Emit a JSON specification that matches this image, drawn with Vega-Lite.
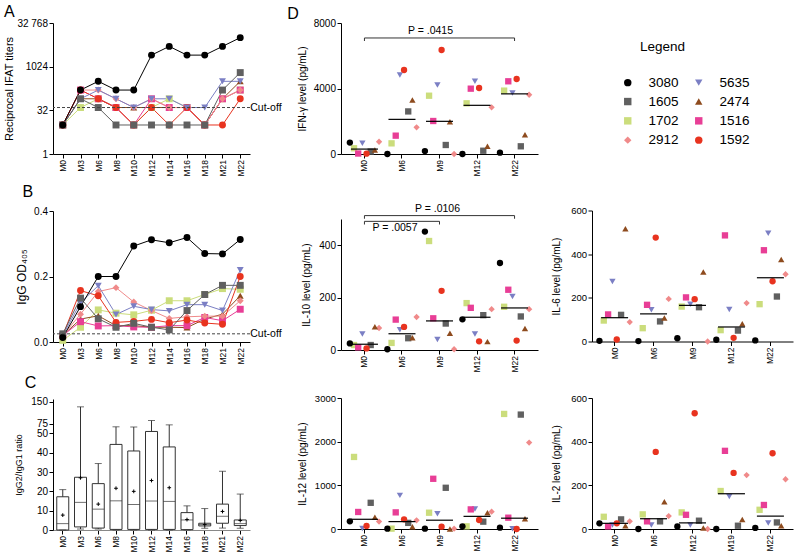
{
"$schema": "https://vega.github.io/schema/vega-lite/v6.json",
"padding": {"left": 3, "top": 3, "right": 1, "bottom": 1},
"background": "white",
"bounds": "flush",
"spacing": 288,
"resolve": {"scale": {"xOffset": "independent"}},
"datasets": {
"serol": [
{"animal":"1702","month":"M0","t":0,"ti":10,"od":0.005},{"animal":"1702","month":"M3","t":3,"ti":40,"od":0.045},{"animal":"1702","month":"M6","t":6,"ti":80,"od":0.098},{"animal":"1702","month":"M8","t":8,"ti":40,"od":0.088},{"animal":"1702","month":"M10","t":10,"ti":10,"od":0.083},{"animal":"1702","month":"M12","t":12,"ti":40,"od":0.097},{"animal":"1702","month":"M14","t":14,"ti":80,"od":0.126},{"animal":"1702","month":"M16","t":16,"ti":40,"od":0.126},{"animal":"1702","month":"M18","t":18,"ti":10,"od":0.145},{"animal":"1702","month":"M21","t":21,"ti":80,"od":0.163},{"animal":"1702","month":"M22","t":22,"ti":160,"od":0.161},
{"animal":"2474","month":"M0","t":0,"ti":10,"od":0.02},{"animal":"2474","month":"M3","t":3,"ti":80,"od":0.07},{"animal":"2474","month":"M6","t":6,"ti":80,"od":0.08},{"animal":"2474","month":"M8","t":8,"ti":40,"od":0.05},{"animal":"2474","month":"M10","t":10,"ti":40,"od":0.05},{"animal":"2474","month":"M12","t":12,"ti":40,"od":0.045},{"animal":"2474","month":"M14","t":14,"ti":40,"od":0.045},{"animal":"2474","month":"M16","t":16,"ti":40,"od":0.044},{"animal":"2474","month":"M18","t":18,"ti":10,"od":0.07},{"animal":"2474","month":"M21","t":21,"ti":80,"od":0.085},{"animal":"2474","month":"M22","t":22,"ti":320,"od":0.141},
{"animal":"1516","month":"M0","t":0,"ti":10,"od":0.02},{"animal":"1516","month":"M3","t":3,"ti":160,"od":0.062},{"animal":"1516","month":"M6","t":6,"ti":80,"od":0.049},{"animal":"1516","month":"M8","t":8,"ti":40,"od":0.05},{"animal":"1516","month":"M10","t":10,"ti":10,"od":0.046},{"animal":"1516","month":"M12","t":12,"ti":80,"od":0.045},{"animal":"1516","month":"M14","t":14,"ti":40,"od":0.05},{"animal":"1516","month":"M16","t":16,"ti":40,"od":0.05},{"animal":"1516","month":"M18","t":18,"ti":10,"od":0.075},{"animal":"1516","month":"M21","t":21,"ti":80,"od":0.065},{"animal":"1516","month":"M22","t":22,"ti":160,"od":0.1},
{"animal":"2912","month":"M0","t":0,"ti":10,"od":0.02},{"animal":"2912","month":"M3","t":3,"ti":160,"od":0.085},{"animal":"2912","month":"M6","t":6,"ti":160,"od":0.154},{"animal":"2912","month":"M8","t":8,"ti":80,"od":0.166},{"animal":"2912","month":"M10","t":10,"ti":40,"od":0.122},{"animal":"2912","month":"M12","t":12,"ti":80,"od":0.096},{"animal":"2912","month":"M14","t":14,"ti":40,"od":0.072},{"animal":"2912","month":"M16","t":16,"ti":40,"od":0.077},{"animal":"2912","month":"M18","t":18,"ti":10,"od":0.079},{"animal":"2912","month":"M21","t":21,"ti":80,"od":0.079},{"animal":"2912","month":"M22","t":22,"ti":160,"od":0.126},
{"animal":"1592","month":"M0","t":0,"ti":10,"od":0.02},{"animal":"1592","month":"M3","t":3,"ti":160,"od":0.157},{"animal":"1592","month":"M6","t":6,"ti":80,"od":0.141},{"animal":"1592","month":"M8","t":8,"ti":40,"od":0.06},{"animal":"1592","month":"M10","t":10,"ti":10,"od":0.063},{"animal":"1592","month":"M12","t":12,"ti":40,"od":0.069},{"animal":"1592","month":"M14","t":14,"ti":10,"od":0.059},{"animal":"1592","month":"M16","t":16,"ti":40,"od":0.067},{"animal":"1592","month":"M18","t":18,"ti":10,"od":0.058},{"animal":"1592","month":"M21","t":21,"ti":10,"od":0.054},{"animal":"1592","month":"M22","t":22,"ti":80,"od":0.2},
{"animal":"5635","month":"M0","t":0,"ti":10,"od":0.02},{"animal":"5635","month":"M3","t":3,"ti":80,"od":0.12},{"animal":"5635","month":"M6","t":6,"ti":160,"od":0.172},{"animal":"5635","month":"M8","t":8,"ti":80,"od":0.084},{"animal":"5635","month":"M10","t":10,"ti":40,"od":0.109},{"animal":"5635","month":"M12","t":12,"ti":80,"od":0.099},{"animal":"5635","month":"M14","t":14,"ti":80,"od":0.095},{"animal":"5635","month":"M16","t":16,"ti":40,"od":0.114},{"animal":"5635","month":"M18","t":18,"ti":40,"od":0.114},{"animal":"5635","month":"M21","t":21,"ti":320,"od":0.096},{"animal":"5635","month":"M22","t":22,"ti":320,"od":0.22},
{"animal":"1605","month":"M0","t":0,"ti":10,"od":0.025},{"animal":"1605","month":"M3","t":3,"ti":80,"od":0.134},{"animal":"1605","month":"M6","t":6,"ti":40,"od":0.071},{"animal":"1605","month":"M8","t":8,"ti":10,"od":0.045},{"animal":"1605","month":"M10","t":10,"ti":10,"od":0.057},{"animal":"1605","month":"M12","t":12,"ti":10,"od":0.045},{"animal":"1605","month":"M14","t":14,"ti":10,"od":0.037},{"animal":"1605","month":"M16","t":16,"ti":10,"od":0.096},{"animal":"1605","month":"M18","t":18,"ti":10,"od":0.145},{"animal":"1605","month":"M21","t":21,"ti":160,"od":0.173},{"animal":"1605","month":"M22","t":22,"ti":640,"od":0.173},
{"animal":"3080","month":"M0","t":0,"ti":10,"od":0.014},{"animal":"3080","month":"M3","t":3,"ti":160,"od":0.108},{"animal":"3080","month":"M6","t":6,"ti":320,"od":0.2},{"animal":"3080","month":"M8","t":8,"ti":160,"od":0.2},{"animal":"3080","month":"M10","t":10,"ti":160,"od":0.293},{"animal":"3080","month":"M12","t":12,"ti":2560,"od":0.312},{"animal":"3080","month":"M14","t":14,"ti":5120,"od":0.303},{"animal":"3080","month":"M16","t":16,"ti":2560,"od":0.319},{"animal":"3080","month":"M18","t":18,"ti":2560,"od":0.27},{"animal":"3080","month":"M21","t":21,"ti":5120,"od":0.269},{"animal":"3080","month":"M22","t":22,"ti":10240,"od":0.313}
],
"ratio": [
{"month":"M0","min":0,"q1":0,"median":3.3,"q3":17.2,"max":20.9,"mean":7.7},
{"month":"M3","min":0.5,"q1":1.6,"median":14.3,"q3":27.3,"max":133,"mean":27},
{"month":"M6","min":0.5,"q1":1,"median":10.8,"q3":24,"max":34.4,"mean":13.4},
{"month":"M8","min":0,"q1":0.3,"median":15.1,"q3":44.3,"max":67,"mean":21.6},
{"month":"M10","min":0,"q1":0.3,"median":13.2,"q3":40.9,"max":66.5,"mean":20},
{"month":"M12","min":0,"q1":0.3,"median":15,"q3":55,"max":86,"mean":25.6},
{"month":"M14","min":0,"q1":0.3,"median":14.8,"q3":43,"max":72,"mean":21.9},
{"month":"M16","min":0,"q1":0.2,"median":5.2,"q3":9,"max":12.5,"mean":5.4},
{"month":"M18","min":0.9,"q1":2.1,"median":2.8,"q3":3.5,"max":11.1,"mean":2.8},
{"month":"M21","min":1,"q1":3.5,"median":7.1,"q3":13.4,"max":30.4,"mean":9.6},
{"month":"M22","min":0.9,"q1":2.3,"median":3.3,"q3":5.2,"max":18.6,"mean":4.9}
],
"cyto": [
{"c":"IFN","m":"M0","3080":700,"1605":150,"1702":350,"2912":750,"5635":650,"2474":250,"1516":30,"1592":20},
{"c":"IFN","m":"M6","3080":0,"1605":2600,"1702":650,"2912":1630,"5635":4825,"2474":3300,"1516":1120,"1592":5130},
{"c":"IFN","m":"M9","3080":180,"1605":550,"1702":3560,"2912":0,"5635":4215,"2474":1975,"1516":2015,"1592":6350},
{"c":"IFN","m":"M12","3080":0,"1605":200,"1702":3095,"2912":2850,"5635":4440,"2474":470,"1516":3990,"1592":4030},
{"c":"IFN","m":"M22","3080":80,"1605":470,"1702":3870,"2912":3620,"5635":3725,"2474":1180,"1516":4440,"1592":4580},
{"c":"IL10","m":"M0","3080":25,"1605":19,"1702":19,"2912":84,"5635":61,"2474":89,"1516":10,"1592":6},
{"c":"IL10","m":"M6","3080":3,"1605":45,"1702":27,"2912":126,"5635":77,"2474":47,"1516":116,"1592":88},
{"c":"IL10","m":"M9","3080":452,"1605":101,"1702":416,"2912":3,"5635":40,"2474":64,"1516":121,"1592":226},
{"c":"IL10","m":"M12","3080":117,"1605":133,"1702":179,"2912":156,"5635":61,"2474":32,"1516":161,"1592":33},
{"c":"IL10","m":"M22","3080":332,"1605":128,"1702":165,"2912":156,"5635":204,"2474":82,"1516":230,"1592":36},
{"c":"IL6","m":"M0","3080":3,"1605":122,"1702":96,"2912":89,"5635":275,"2474":516,"1516":124,"1592":9},
{"c":"IL6","m":"M6","3080":2,"1605":92,"1702":61,"2912":195,"5635":145,"2474":108,"1516":168,"1592":476},
{"c":"IL6","m":"M9","3080":15,"1605":157,"1702":160,"2912":0,"5635":171,"2474":318,"1516":202,"1592":194},
{"c":"IL6","m":"M12","3080":8,"1605":50,"1702":52,"2912":176,"5635":147,"2474":81,"1516":486,"1592":17},
{"c":"IL6","m":"M22","3080":5,"1605":206,"1702":171,"2912":308,"5635":496,"2474":376,"1516":418,"1592":276},
{"c":"IL12","m":"M0","3080":175,"1605":600,"1702":1650,"2912":170,"5635":10,"2474":270,"1516":390,"1592":70},
{"c":"IL12","m":"M6","3080":8,"1605":140,"1702":8,"2912":198,"5635":770,"2474":53,"1516":381,"1592":221},
{"c":"IL12","m":"M9","3080":8,"1605":944,"1702":373,"2912":8,"5635":350,"2474":0,"1516":1150,"1592":53},
{"c":"IL12","m":"M12","3080":61,"1605":168,"1702":61,"2912":396,"5635":457,"2474":373,"1516":449,"1592":206},
{"c":"IL12","m":"M22","3080":30,"1605":2620,"1702":2635,"2912":1980,"5635":8,"2474":236,"1516":259,"1592":0},
{"c":"IL2","m":"M0","3080":26,"1605":44,"1702":56,"2912":35,"5635":18,"2474":15,"1516":12,"1592":26},
{"c":"IL2","m":"M6","3080":0,"1605":35,"1702":67,"2912":59,"5635":18,"2474":125,"1516":35,"1592":353},
{"c":"IL2","m":"M12","3080":12,"1605":38,"1702":76,"2912":0,"5635":18,"2474":5,"1516":65,"1592":530},
{"c":"IL2","m":"M19","3080":0,"1605":15,"1702":174,"2912":247,"5635":149,"2474":43,"1516":358,"1592":257},
{"c":"IL2","m":"M22","3080":5,"1605":30,"1702":88,"2912":228,"5635":27,"2474":15,"1516":110,"1592":347}
],
"br": [
{"c":"IFN","a":"M0","b":"M22","y":7085,"label":"P = .0415","lx":"M9","pos":"above"},
{"c":"IL10","a":"M0","b":"M22","y":513,"label":"P = .0106","lx":"M9","pos":"above"},
{"c":"IL10","a":"M0","b":"M9","y":491,"label":"P = .0057","lx":"M0","pos":"below"}
],
"brEnds": [
{"c":"IFN","m":"M0","y":7085,"y2":6900},{"c":"IFN","m":"M22","y":7085,"y2":6900},
{"c":"IL10","m":"M0","y":513,"y2":501},{"c":"IL10","m":"M22","y":513,"y2":501},
{"c":"IL10","m":"M0","y":491,"y2":479},{"c":"IL10","m":"M9","y":491,"y2":479}
],
"cut": [{"panel":"A","v":40,"label":"Cut-off"},{"panel":"B","v":0.025,"label":"Cut-off"}]
},
"hconcat": [
{
"vconcat": [
{
"title": {"text": "A", "offset": -1.5},
"width": 197, "height": 131,
"data": {"name": "serol"},
"layer": [
{"mark": {"type": "line", "strokeWidth": 1},
"encoding": {
"x": {"field": "month", "type": "nominal", "title": null, "scale": {"domain": ["M0","M3","M6","M8","M10","M12","M14","M16","M18","M21","M22"], "padding": 0.55}},
"y": {"field": "ti", "type": "quantitative", "title": "Reciprocal IFAT titers", "scale": {"type": "log", "base": 2, "domain": [1, 32768], "nice": false}, "axis": {"values": [1, 32, 1024, 32768], "labelExpr": "datum.value == 32768 ? '32 768' : format(datum.value, 'd')", "titleFontSize": 11, "titlePadding": 2}},
"stroke": {"field": "animal", "type": "nominal", "legend": null, "scale": {"domain": ["1592","1516","2474","5635","2912","1702","1605","3080"], "range": ["#e8331f","#e83e96","#8e4b1e","#7b7fc4","#f08a8a","#cbdd7c","#606060","#000000"]}},
"order": {"field": "t"}
}},
{"mark": {"type": "point", "filled": true, "size": 48, "opacity": 1},
"encoding": {
"x": {"field": "month", "type": "nominal", "title": null},
"y": {"field": "ti", "type": "quantitative", "title": "Reciprocal IFAT titers"},
"color": {"field": "animal", "type": "nominal", "scale": {"domain": ["3080","1605","1702","2912","5635","2474","1516","1592"], "range": ["#000000","#606060","#cbdd7c","#f08a8a","#7b7fc4","#8e4b1e","#e83e96","#e8331f"]}, "legend": {"title": "Legend", "orient": "none", "legendX": 568, "legendY": 17, "columns": 2}},
"shape": {"field": "animal", "type": "nominal", "scale": {"domain": ["3080","1605","1702","2912","5635","2474","1516","1592"], "range": ["circle","square","square","diamond","triangle-down","triangle-up","square","circle"]}, "legend": {"title": "Legend", "orient": "none", "legendX": 568, "legendY": 17, "columns": 2}}
}},
{"data": {"name": "cut"}, "transform": [{"filter": "datum.panel == 'A'"}], "mark": {"type": "rule", "strokeDash": [3, 2], "color": "#444", "strokeWidth": 1}, "encoding": {"y": {"field": "v", "type": "quantitative", "title": "Reciprocal IFAT titers"}}},
{"data": {"name": "cut"}, "transform": [{"filter": "datum.panel == 'A'"}], "mark": {"type": "text", "align": "left", "dx": 10, "fontSize": 10.5}, "encoding": {"x": {"datum": "M22"}, "y": {"field": "v", "type": "quantitative", "title": "Reciprocal IFAT titers"}, "text": {"field": "label"}}}
]
},
{
"title": {"text": "B", "offset": 6, "dx": 7},
"width": 197, "height": 131,
"data": {"name": "serol"},
"layer": [
{"mark": {"type": "line", "strokeWidth": 1},
"encoding": {
"x": {"field": "month", "type": "nominal", "title": null, "scale": {"domain": ["M0","M3","M6","M8","M10","M12","M14","M16","M18","M21","M22"], "padding": 0.55}},
"y": {"field": "od", "type": "quantitative", "title": "IgG OD₄₀₅", "scale": {"domain": [0, 0.4], "nice": false}, "axis": {"values": [0, 0.1, 0.2, 0.3, 0.4], "format": ".1f", "titleFontSize": 12, "titlePadding": 5}},
"stroke": {"field": "animal", "type": "nominal", "legend": null, "scale": {"domain": ["1592","1516","2474","5635","2912","1702","1605","3080"], "range": ["#e8331f","#e83e96","#8e4b1e","#7b7fc4","#f08a8a","#cbdd7c","#606060","#000000"]}},
"order": {"field": "t"}
}},
{"mark": {"type": "point", "filled": true, "size": 48, "opacity": 1},
"encoding": {
"x": {"field": "month", "type": "nominal", "title": null},
"y": {"field": "od", "type": "quantitative", "title": "IgG OD₄₀₅"},
"color": {"field": "animal", "type": "nominal", "scale": {"domain": ["3080","1605","1702","2912","5635","2474","1516","1592"], "range": ["#000000","#606060","#cbdd7c","#f08a8a","#7b7fc4","#8e4b1e","#e83e96","#e8331f"]}, "legend": {"title": "Legend", "orient": "none", "legendX": 568, "legendY": 17, "columns": 2}},
"shape": {"field": "animal", "type": "nominal", "scale": {"domain": ["3080","1605","1702","2912","5635","2474","1516","1592"], "range": ["circle","square","square","diamond","triangle-down","triangle-up","square","circle"]}, "legend": {"title": "Legend", "orient": "none", "legendX": 568, "legendY": 17, "columns": 2}}
}},
{"data": {"name": "cut"}, "transform": [{"filter": "datum.panel == 'B'"}], "mark": {"type": "rule", "strokeDash": [3, 2], "color": "#444", "strokeWidth": 1}, "encoding": {"y": {"field": "v", "type": "quantitative", "title": "IgG OD₄₀₅"}}},
{"data": {"name": "cut"}, "transform": [{"filter": "datum.panel == 'B'"}], "mark": {"type": "text", "align": "left", "dx": 10, "fontSize": 10.5}, "encoding": {"x": {"datum": "M22"}, "y": {"field": "v", "type": "quantitative", "title": "IgG OD₄₀₅"}, "text": {"field": "label"}}}
]
},
{
"title": {"text": "C", "offset": 6, "dx": 10},
"width": 197, "height": 131,
"data": {"name": "ratio"},
"encoding": {"x": {"field": "month", "type": "nominal", "title": null, "scale": {"domain": ["M0","M3","M6","M8","M10","M12","M14","M16","M18","M21","M22"], "paddingInner": 0, "paddingOuter": 0.05}, "axis": {"domainColor": "#888"}}},
"layer": [
{"mark": {"type": "rule", "color": "#333"}, "encoding": {"y": {"field": "min", "type": "quantitative", "title": "IgG2/IgG1 ratio", "scale": {"domain": [0, 50, 75, 150], "range": [131, 34.4, 24.7, 0]}, "axis": {"values": [0, 10, 20, 30, 40, 50, 75, 150], "labelOverlap": false, "labelSeparation": 0, "titleFontSize": 9, "titlePadding": 7}}, "y2": {"field": "max"}}},
{"mark": {"type": "bar", "size": 12, "fill": "white", "stroke": "#333", "strokeWidth": 1}, "encoding": {"y": {"field": "q1", "type": "quantitative", "title": "IgG2/IgG1 ratio", "axis": {"values": [0, 10, 20, 30, 40, 50, 75, 150], "labelOverlap": false, "labelSeparation": 0, "titleFontSize": 9, "titlePadding": 7}}, "y2": {"field": "q3"}}},
{"mark": {"type": "tick", "size": 12, "thickness": 1, "color": "#333"}, "encoding": {"y": {"field": "median", "type": "quantitative", "title": "IgG2/IgG1 ratio", "axis": {"values": [0, 10, 20, 30, 40, 50, 75, 150], "labelOverlap": false, "labelSeparation": 0, "titleFontSize": 9, "titlePadding": 7}}}},
{"mark": {"type": "tick", "size": 7, "thickness": 1, "color": "#333"}, "encoding": {"y": {"field": "max", "type": "quantitative", "title": "IgG2/IgG1 ratio", "axis": {"values": [0, 10, 20, 30, 40, 50, 75, 150], "labelOverlap": false, "labelSeparation": 0, "titleFontSize": 9, "titlePadding": 7}}}},
{"mark": {"type": "tick", "size": 7, "thickness": 1, "color": "#333"}, "encoding": {"y": {"field": "min", "type": "quantitative", "title": "IgG2/IgG1 ratio", "axis": {"values": [0, 10, 20, 30, 40, 50, 75, 150], "labelOverlap": false, "labelSeparation": 0, "titleFontSize": 9, "titlePadding": 7}}}},
{"mark": {"type": "point", "shape": "M-1,0H1M0,-1V1", "filled": false, "size": 14, "stroke": "#000", "strokeWidth": 1, "opacity": 1}, "encoding": {"y": {"field": "mean", "type": "quantitative", "title": "IgG2/IgG1 ratio", "axis": {"values": [0, 10, 20, 30, 40, 50, 75, 150], "labelOverlap": false, "labelSeparation": 0, "titleFontSize": 9, "titlePadding": 7}}}}
]
}
],
"spacing": 57,
"bounds": "flush"
},
{
"hconcat": [
{
"vconcat": [
{
"title": {"text": "D", "offset": -4, "dx": -10},
"width": 197, "height": 131,
"layer": [
{"data": {"name": "cyto"}, "transform": [{"fold": ["1605","1702","2912","5635","2474","1516","1592","3080"], "as": ["animal", "v"]}, {"filter": "datum.c == 'IFN'"}],
"mark": {"type": "point", "filled": true, "size": 40, "opacity": 1},
"encoding": {
"x": {"field": "m", "type": "nominal", "title": null, "scale": {"type": "band", "domain": ["M0","M6","M9","M12","M22"], "paddingInner": 0, "paddingOuter": 0.125}},
"xOffset": {"field": "animal", "type": "nominal", "scale": {"domain": ["3080","1702","1516","5635","1592","1605","2474","2912"], "paddingInner": 0, "paddingOuter": 2.25}},
"y": {"field": "v", "type": "quantitative", "title": "IFN-γ level (pg/mL)", "scale": {"domain": [0, 8000], "nice": false}, "axis": {"values": [0, 2000, 4000, 6000, 8000], "format": "d", "titlePadding": 6}},
"color": {"field": "animal", "type": "nominal", "scale": {"domain": ["3080","1605","1702","2912","5635","2474","1516","1592"], "range": ["#000000","#606060","#cbdd7c","#f08a8a","#7b7fc4","#8e4b1e","#e83e96","#e8331f"]}, "legend": {"title": "Legend", "orient": "none", "legendX": 568, "legendY": 17, "columns": 2}},
"shape": {"field": "animal", "type": "nominal", "scale": {"domain": ["3080","1605","1702","2912","5635","2474","1516","1592"], "range": ["circle","square","square","diamond","triangle-down","triangle-up","square","circle"]}, "legend": {"title": "Legend", "orient": "none", "legendX": 568, "legendY": 17, "columns": 2}}
}},
{"data": {"name": "cyto"}, "transform": [{"fold": ["1605","1702","2912","5635","2474","1516","1592","3080"], "as": ["animal", "v"]}, {"filter": "datum.c == 'IFN'"}],
"mark": {"type": "tick", "color": "#000", "size": 27, "thickness": 1.2},
"encoding": {"x": {"field": "m", "type": "nominal", "title": null}, "y": {"aggregate": "median", "field": "v", "type": "quantitative", "title": "IFN-γ level (pg/mL)"}}},
{"data": {"name": "br"}, "transform": [{"filter": "datum.c == 'IFN'"}],
"mark": {"type": "rule", "color": "#333", "strokeWidth": 1},
"encoding": {"x": {"field": "a", "type": "nominal", "title": null}, "x2": {"field": "b"}, "y": {"field": "y", "type": "quantitative", "title": "IFN-γ level (pg/mL)"}}},
{"data": {"name": "brEnds"}, "transform": [{"filter": "datum.c == 'IFN'"}],
"mark": {"type": "rule", "color": "#333", "strokeWidth": 1},
"encoding": {"x": {"field": "m", "type": "nominal", "title": null}, "y": {"field": "y", "type": "quantitative", "title": "IFN-γ level (pg/mL)"}, "y2": {"field": "y2"}}},
{"data": {"name": "br"}, "transform": [{"filter": "datum.c == 'IFN'"}],
"mark": {"type": "text", "baseline": "bottom", "dy": -2, "dx": -9, "fontSize": 10.5},
"encoding": {"x": {"field": "lx", "type": "nominal", "title": null}, "y": {"field": "y", "type": "quantitative", "title": "IFN-γ level (pg/mL)"}, "text": {"field": "label"}}}
]
},
{
"vconcat": [
{
"width": 197, "height": 131,
"layer": [
{"data": {"name": "cyto"}, "transform": [{"fold": ["1605","1702","2912","5635","2474","1516","1592","3080"], "as": ["animal", "v"]}, {"filter": "datum.c == 'IL10'"}],
"mark": {"type": "point", "filled": true, "size": 40, "opacity": 1},
"encoding": {
"x": {"field": "m", "type": "nominal", "title": null, "scale": {"type": "band", "domain": ["M0","M6","M9","M12","M22"], "paddingInner": 0, "paddingOuter": 0.125}},
"xOffset": {"field": "animal", "type": "nominal", "scale": {"domain": ["3080","1702","1516","5635","1592","1605","2474","2912"], "paddingInner": 0, "paddingOuter": 2.25}},
"y": {"field": "v", "type": "quantitative", "title": "IL-10 level (pg/mL)", "scale": {"domain": [0, 500], "nice": false}, "axis": {"values": [0, 100, 200, 300, 400, 500], "format": "d", "titlePadding": 7}},
"color": {"field": "animal", "type": "nominal", "scale": {"domain": ["3080","1605","1702","2912","5635","2474","1516","1592"], "range": ["#000000","#606060","#cbdd7c","#f08a8a","#7b7fc4","#8e4b1e","#e83e96","#e8331f"]}, "legend": {"title": "Legend", "orient": "none", "legendX": 568, "legendY": 17, "columns": 2}},
"shape": {"field": "animal", "type": "nominal", "scale": {"domain": ["3080","1605","1702","2912","5635","2474","1516","1592"], "range": ["circle","square","square","diamond","triangle-down","triangle-up","square","circle"]}, "legend": {"title": "Legend", "orient": "none", "legendX": 568, "legendY": 17, "columns": 2}}
}},
{"data": {"name": "cyto"}, "transform": [{"fold": ["1605","1702","2912","5635","2474","1516","1592","3080"], "as": ["animal", "v"]}, {"filter": "datum.c == 'IL10'"}],
"mark": {"type": "tick", "color": "#000", "size": 27, "thickness": 1.2},
"encoding": {"x": {"field": "m", "type": "nominal", "title": null}, "y": {"aggregate": "median", "field": "v", "type": "quantitative", "title": "IL-10 level (pg/mL)"}}},
{"data": {"name": "br"}, "transform": [{"filter": "datum.c == 'IL10'"}],
"mark": {"type": "rule", "color": "#333", "strokeWidth": 1},
"encoding": {"x": {"field": "a", "type": "nominal", "title": null}, "x2": {"field": "b"}, "y": {"field": "y", "type": "quantitative", "title": "IL-10 level (pg/mL)"}}},
{"data": {"name": "brEnds"}, "transform": [{"filter": "datum.c == 'IL10'"}],
"mark": {"type": "rule", "color": "#333", "strokeWidth": 1},
"encoding": {"x": {"field": "m", "type": "nominal", "title": null}, "y": {"field": "y", "type": "quantitative", "title": "IL-10 level (pg/mL)"}, "y2": {"field": "y2"}}},
{"data": {"name": "br"}, "transform": [{"filter": "datum.c == 'IL10' && datum.pos == 'above'"}],
"mark": {"type": "text", "baseline": "bottom", "dy": -2, "dx": -2, "fontSize": 10.5},
"encoding": {"x": {"field": "lx", "type": "nominal", "title": null}, "y": {"field": "y", "type": "quantitative", "title": "IL-10 level (pg/mL)"}, "text": {"field": "label"}}},
{"data": {"name": "br"}, "transform": [{"filter": "datum.c == 'IL10' && datum.pos == 'below'"}],
"mark": {"type": "text", "baseline": "top", "align": "left", "dy": 2, "dx": 8, "fontSize": 10.5},
"encoding": {"x": {"field": "lx", "type": "nominal", "title": null}, "y": {"field": "y", "type": "quantitative", "title": "IL-10 level (pg/mL)"}, "text": {"field": "label"}}}
]
},
{
"width": 197, "height": 131,
"layer": [
{"data": {"name": "cyto"}, "transform": [{"fold": ["1605","1702","2912","5635","2474","1516","1592","3080"], "as": ["animal", "v"]}, {"filter": "datum.c == 'IL12'"}],
"mark": {"type": "point", "filled": true, "size": 40, "opacity": 1},
"encoding": {
"x": {"field": "m", "type": "nominal", "title": null, "scale": {"type": "band", "domain": ["M0","M6","M9","M12","M22"], "paddingInner": 0, "paddingOuter": 0.125}},
"xOffset": {"field": "animal", "type": "nominal", "scale": {"domain": ["3080","1702","1516","5635","1592","1605","2474","2912"], "paddingInner": 0, "paddingOuter": 2.25}},
"y": {"field": "v", "type": "quantitative", "title": "IL-12 level (pg/mL)", "scale": {"domain": [0, 3000], "nice": false}, "axis": {"values": [0, 1000, 2000, 3000], "format": "d", "titlePadding": 7, "labelFontSize": 9.5}},
"color": {"field": "animal", "type": "nominal", "scale": {"domain": ["3080","1605","1702","2912","5635","2474","1516","1592"], "range": ["#000000","#606060","#cbdd7c","#f08a8a","#7b7fc4","#8e4b1e","#e83e96","#e8331f"]}, "legend": {"title": "Legend", "orient": "none", "legendX": 568, "legendY": 17, "columns": 2}},
"shape": {"field": "animal", "type": "nominal", "scale": {"domain": ["3080","1605","1702","2912","5635","2474","1516","1592"], "range": ["circle","square","square","diamond","triangle-down","triangle-up","square","circle"]}, "legend": {"title": "Legend", "orient": "none", "legendX": 568, "legendY": 17, "columns": 2}}
}},
{"data": {"name": "cyto"}, "transform": [{"fold": ["1605","1702","2912","5635","2474","1516","1592","3080"], "as": ["animal", "v"]}, {"filter": "datum.c == 'IL12'"}],
"mark": {"type": "tick", "color": "#000", "size": 27, "thickness": 1.2},
"encoding": {"x": {"field": "m", "type": "nominal", "title": null}, "y": {"aggregate": "median", "field": "v", "type": "quantitative", "title": "IL-12 level (pg/mL)"}}}
]
}
],
"spacing": 48,
"bounds": "flush",
"resolve": {"scale": {"xOffset": "independent"}}
}
],
"spacing": 65,
"bounds": "flush",
"resolve": {"scale": {"xOffset": "independent"}}
},
{
"vconcat": [
{
"width": 201, "height": 131,
"data": {"values": [{"z": 0}]},
"mark": {"type": "point", "opacity": 0},
"encoding": {}
},
{
"width": 201, "height": 131,
"layer": [
{"data": {"name": "cyto"}, "transform": [{"fold": ["1605","1702","2912","5635","2474","1516","1592","3080"], "as": ["animal", "v"]}, {"filter": "datum.c == 'IL6'"}],
"mark": {"type": "point", "filled": true, "size": 40, "opacity": 1},
"encoding": {
"x": {"field": "m", "type": "nominal", "title": null, "scale": {"type": "band", "domain": ["M0","M6","M9","M12","M22"], "paddingInner": 0, "paddingOuter": 0.08}},
"xOffset": {"field": "animal", "type": "nominal", "scale": {"domain": ["3080","1702","1516","5635","1592","1605","2474","2912"], "paddingInner": 0, "paddingOuter": 2.4}},
"y": {"field": "v", "type": "quantitative", "title": "IL-6 level (pg/mL)", "scale": {"domain": [0, 600], "nice": false}, "axis": {"values": [0, 200, 400, 600], "format": "d", "titlePadding": 9, "labelFontSize": 9.5}},
"color": {"field": "animal", "type": "nominal", "scale": {"domain": ["3080","1605","1702","2912","5635","2474","1516","1592"], "range": ["#000000","#606060","#cbdd7c","#f08a8a","#7b7fc4","#8e4b1e","#e83e96","#e8331f"]}, "legend": {"title": "Legend", "orient": "none", "legendX": 568, "legendY": 17, "columns": 2}},
"shape": {"field": "animal", "type": "nominal", "scale": {"domain": ["3080","1605","1702","2912","5635","2474","1516","1592"], "range": ["circle","square","square","diamond","triangle-down","triangle-up","square","circle"]}, "legend": {"title": "Legend", "orient": "none", "legendX": 568, "legendY": 17, "columns": 2}}
}},
{"data": {"name": "cyto"}, "transform": [{"fold": ["1605","1702","2912","5635","2474","1516","1592","3080"], "as": ["animal", "v"]}, {"filter": "datum.c == 'IL6'"}],
"mark": {"type": "tick", "color": "#000", "size": 27, "thickness": 1.2},
"encoding": {"x": {"field": "m", "type": "nominal", "title": null}, "y": {"aggregate": "median", "field": "v", "type": "quantitative", "title": "IL-6 level (pg/mL)"}}}
]
},
{
"width": 201, "height": 131,
"layer": [
{"data": {"name": "cyto"}, "transform": [{"fold": ["1605","1702","2912","5635","2474","1516","1592","3080"], "as": ["animal", "v"]}, {"filter": "datum.c == 'IL2'"}],
"mark": {"type": "point", "filled": true, "size": 40, "opacity": 1},
"encoding": {
"x": {"field": "m", "type": "nominal", "title": null, "scale": {"type": "band", "domain": ["M0","M6","M12","M19","M22"], "paddingInner": 0, "paddingOuter": 0.08}},
"xOffset": {"field": "animal", "type": "nominal", "scale": {"domain": ["3080","1702","1516","5635","1592","1605","2474","2912"], "paddingInner": 0, "paddingOuter": 2.4}},
"y": {"field": "v", "type": "quantitative", "title": "IL-2 level (pg/mL)", "scale": {"domain": [0, 600], "nice": false}, "axis": {"values": [0, 200, 400, 600], "format": "d", "titlePadding": 9, "labelFontSize": 9.5}},
"color": {"field": "animal", "type": "nominal", "scale": {"domain": ["3080","1605","1702","2912","5635","2474","1516","1592"], "range": ["#000000","#606060","#cbdd7c","#f08a8a","#7b7fc4","#8e4b1e","#e83e96","#e8331f"]}, "legend": {"title": "Legend", "orient": "none", "legendX": 568, "legendY": 17, "columns": 2}},
"shape": {"field": "animal", "type": "nominal", "scale": {"domain": ["3080","1605","1702","2912","5635","2474","1516","1592"], "range": ["circle","square","square","diamond","triangle-down","triangle-up","square","circle"]}, "legend": {"title": "Legend", "orient": "none", "legendX": 568, "legendY": 17, "columns": 2}}
}},
{"data": {"name": "cyto"}, "transform": [{"fold": ["1605","1702","2912","5635","2474","1516","1592","3080"], "as": ["animal", "v"]}, {"filter": "datum.c == 'IL2'"}],
"mark": {"type": "tick", "color": "#000", "size": 27, "thickness": 1.2},
"encoding": {"x": {"field": "m", "type": "nominal", "title": null}, "y": {"aggregate": "median", "field": "v", "type": "quantitative", "title": "IL-2 level (pg/mL)"}}}
]
}
],
"spacing": 56.5,
"bounds": "flush",
"resolve": {"scale": {"xOffset": "independent"}}
}
],
"spacing": 251,
"bounds": "flush",
"resolve": {"scale": {"xOffset": "independent"}}
}
],
"config": {
"font": "Liberation Sans",
"view": {"stroke": null},
"axis": {"labelFont": "Liberation Sans", "titleFont": "Liberation Sans", "labelFontSize": 10, "titleFontSize": 10, "titleFontWeight": "normal", "labelColor": "#000", "titleColor": "#000", "domainColor": "#000", "tickColor": "#000", "tickSize": 4, "grid": false, "labelPadding": 1.5, "domainWidth": 1, "tickWidth": 1},
"axisX": {"labelAngle": -90, "labelFontSize": 8.5},
"axisY": {"labelOverlap": false},
"title": {"font": "Liberation Sans", "fontSize": 16, "fontWeight": "normal", "anchor": "start", "frame": "bounds", "color": "#000"},
"text": {"font": "Liberation Sans", "fontSize": 10.5, "color": "#000"},
"legend": {"symbolSize": 55, "labelFontSize": 13.5, "titleFontSize": 13.5, "titleFontWeight": "normal", "titleAnchor": "middle", "titleAlign": "right", "titlePadding": 22, "rowPadding": 4.3, "columnPadding": 13, "labelOffset": 14, "labelFont": "Liberation Sans", "titleFont": "Liberation Sans", "labelColor": "#000", "titleColor": "#000", "symbolStrokeWidth": 0}
}
}
